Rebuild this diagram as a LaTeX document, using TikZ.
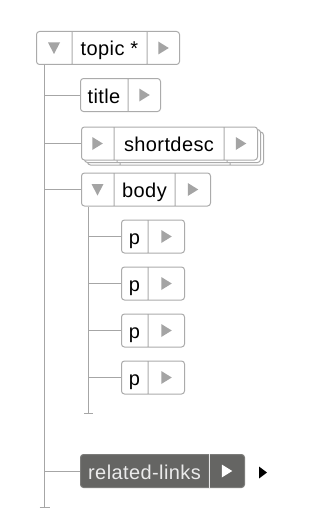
\documentclass[tikz,border=0pt]{standalone}
\usepackage{fontspec}
\setmainfont{Liberation Sans}[LetterSpace=2]
\usetikzlibrary{shapes.multipart,shadows}

\definecolor{boxgray}{HTML}{ABABAB}
\definecolor{linegray}{HTML}{A6A6A6}
\definecolor{trigray}{HTML}{A4A4A4}
\definecolor{darkfill}{HTML}{656563}

% small triangles inside the parts
\newcommand{\tridn}[1][trigray]{\tikz[baseline=0pt,sharp corners]\fill[#1] (0pt,13.5pt) -- (12pt,13.5pt) -- (6pt,2pt) -- cycle;}
\newcommand{\trirt}[1][trigray]{\tikz[baseline=0pt,sharp corners]\fill[#1] (0pt,1.5pt) -- (10.5pt,8pt) -- (0pt,14.5pt) -- cycle;}
\newcommand{\seg}[2]{\makebox[#1pt]{\rule[-8.5pt]{0pt}{33pt}#2}}

\tikzset{
  elem/.style={rectangle split, rectangle split horizontal, rectangle split parts=#1,
    draw=boxgray, line width=1pt, rounded corners=3pt, fill=white, inner sep=0pt,
    anchor=west, font=\fontsize{20}{22}\selectfont},
  elem/.default=2,
  tree/.style={draw=linegray, line width=1pt},
}

\begin{document}
\begin{tikzpicture}[x=1pt,y=-1pt]
\useasboundingbox (0,0) rectangle (329,519);

\node[elem=3] (topic) at (36,48)
  {\seg{35}{\tridn}\nodepart{two}\seg{74}{topic *}\nodepart{three}\seg{32}{\trirt}};
\node[elem] (title) at (80,95)
  {\seg{47}{title}\nodepart{two}\seg{32}{\trirt}};
\node[elem=3, double copy shadow={shadow xshift=3pt, shadow yshift=-2.5pt, draw=boxgray, fill=white}] (shortdesc) at (81,143.5)
  {\seg{32}{\trirt}\nodepart{two}\seg{109}{shortdesc}\nodepart{three}\seg{33}{\trirt}};
\node[elem=3] (body) at (81,189.5)
  {\seg{32}{\tridn}\nodepart{two}\seg{60}{body}\nodepart{three}\seg{35}{\trirt}};

\foreach \i in {1,...,4}{
    \pgfmathsetmacro{\y}{236.5+47*(\i-1)}
    \node[elem] (p\i) at (121,\y) {\seg{26}{p}\nodepart{two}\seg{36}{\trirt}};
}

\node[elem, fill=darkfill, draw=darkfill!85!white, text=white!92!black] (rl) at (80,471)
  {\seg{128}{related-links}\nodepart{two}\seg{35}{\trirt[white]}};
\draw[white!85!darkfill, line width=1pt] (rl.one split north) -- (rl.one split south);
\fill (rl.east) ++(14,-4.5) -- ++(8,6) -- ++(-8,6) -- cycle;

% main trunk
\coordinate (trunk) at (44.5,507);
\draw[tree] (trunk |- topic.south) -- (trunk);
\draw[tree] (trunk) ++(-5,0) -- ++(10,0);
\foreach \n in {title,shortdesc,body,rl}{
    \draw[tree] (trunk |- \n.west) -- (\n.west);
}

% body trunk
\coordinate (sub) at (88.5,413);
\draw[tree] (sub |- body.south) -- (sub);
\draw[tree] (sub) ++(-4.5,0) -- ++(9,0);
\foreach \i in {1,...,4}{
    \draw[tree] (sub |- p\i.west) -- (p\i.west);
}

\end{tikzpicture}
\end{document}
